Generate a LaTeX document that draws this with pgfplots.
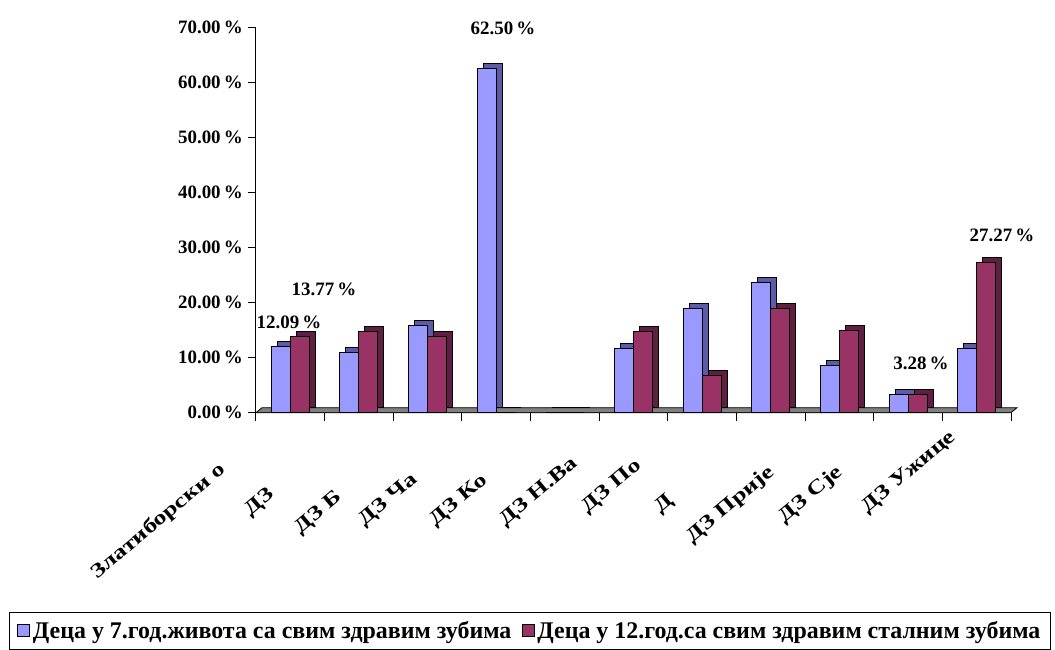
\documentclass[border=0pt]{standalone}
\usepackage{pgfplots}
\pgfplotsset{compat=1.18}
\usepackage{pgfplotstable}
\usepackage{fontspec}
\setmainfont{Liberation Serif}

\definecolor{blueF}{HTML}{9999FF}
\definecolor{blueD}{HTML}{5C5CA6}
\definecolor{redF}{HTML}{993366}
\definecolor{redD}{HTML}{5E1F40}
\definecolor{floorG}{HTML}{808080}

% share of children with all healthy teeth, per health centre
\pgfplotstableread{
x  blue   red
0  12.09  13.77
1  11.0   14.8
2  15.8   13.8
3  62.50  0
4  0      0
5  11.7   14.8
6  19.0   6.8
7  23.7   18.9
8  8.6    15.0
9  3.28   3.28
10 11.6   27.27
}\teeth

\begin{document}
\begin{tikzpicture}[font=\bfseries]
\path[use as bounding box] (-256bp,-237.3bp) rectangle (799bp,412.7bp);
\begin{axis}[
    scale only axis,
    width=755bp, height=385.7bp,
    xmin=-0.5, xmax=10.5,
    ymin=0, ymax=70,
    ybar=0pt, bar width=19bp,
    axis x line=bottom, axis y line=left,
    axis line style={-, black, line width=1bp},
    xtick={-0.5,0.5,...,10.5}, xticklabels={},
    ytick={0,10,...,70},
    tick align=outside, major tick length=8bp,
    tick style={black, line width=1bp},
    /pgf/number format/assume math mode=true,
    yticklabel={\pgfmathprintnumber[fixed,fixed zerofill,precision=2]{\tick}\,\%},
    yticklabel style={font=\fontsize{19}{19}\selectfont\bfseries, inner sep=0pt, xshift=-5bp},
    clip=false,
    legend columns=2,
    legend style={at={(-0.3272,-0.5167)}, anchor=north west, draw=black, line width=1bp,
        font=\fontsize{24}{24}\selectfont\bfseries, inner xsep=8bp, inner ysep=7bp,
        nodes={inner xsep=2.5bp},
        /tikz/every even column/.append style={column sep=8bp}},
    legend image code/.code={\draw[#1, draw=black, line width=1bp] (0bp,-6bp) rectangle (12bp,6bp);},
]
% floor
\addplot[sharp plot, fill=floorG, draw=black, line width=0.8bp, forget plot]
    coordinates {(-0.5,0) (10.5,0) (10.587,0.907) (-0.413,0.907)} -- cycle;
% depth faces
\addplot[bar shift=-9.5bp, fill=blueD, draw=black, line width=1bp, xshift=6bp, yshift=5bp, forget plot]
    table[x=x, y=blue] {\teeth};
\addplot[bar shift=9.5bp, fill=redD, draw=black, line width=1bp, xshift=6bp, yshift=5bp, forget plot]
    table[x=x, y=red] {\teeth};
% front faces
\addplot[bar shift=-9.5bp, fill=blueF, draw=black, line width=1bp]
    table[x=x, y=blue] {\teeth};
\addplot[bar shift=9.5bp, fill=redF, draw=black, line width=1bp]
    table[x=x, y=red] {\teeth};
\legend{Деца у 7.год.живота са свим здравим зубима, Деца у 12.год.са свим здравим сталним зубима}
\end{axis}

% value labels
\begin{scope}[every node/.style={font=\fontsize{19}{19}\selectfont\bfseries, inner sep=0pt}]
\node at (33bp,90.7bp) {12.09\,\%};
\node at (68bp,123.7bp) {13.77\,\%};
\node at (247bp,384.2bp) {62.50\,\%};
\node at (665bp,49.2bp) {3.28\,\%};
\node at (746bp,177.2bp) {27.27\,\%};
\end{scope}

% category labels
\begin{scope}[every node/.style={font=\fontsize{20}{20}\selectfont\bfseries, inner sep=0pt, rotate=40, xscale=1.3, anchor=south west}]
\node at (-156bp,-170.3bp) {Златиборски о};
\node at (-3bp,-107.3bp) {ДЗ};
\node at (47bp,-125.3bp) {ДЗ Б};
\node at (111bp,-117.3bp) {ДЗ Ча};
\node at (182bp,-117.3bp) {ДЗ Ко};
\node at (252bp,-117.3bp) {ДЗ Н.Ва};
\node at (334bp,-104.3bp) {ДЗ По};
\node at (407bp,-104.3bp) {Д};
\node at (439bp,-134.3bp) {ДЗ Прије};
\node at (531bp,-114.3bp) {ДЗ Сје};
\node at (614bp,-104.3bp) {ДЗ Ужице};
\end{scope}
\end{tikzpicture}
\end{document}
